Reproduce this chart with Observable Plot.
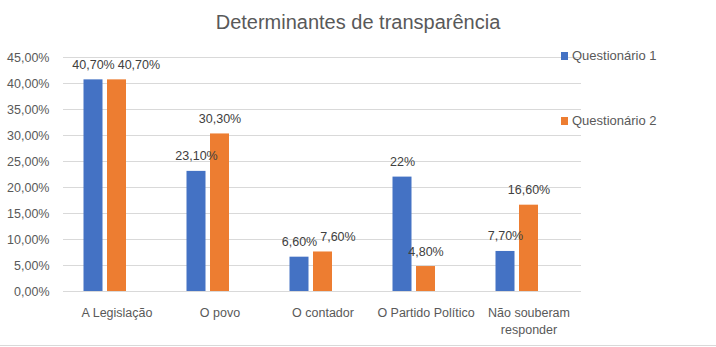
<!DOCTYPE html>
<html>
<head>
<meta charset="utf-8">
<script src="https://cdn.jsdelivr.net/npm/d3@7"></script>
<script src="https://cdn.jsdelivr.net/npm/@observablehq/plot@0.6"></script>
<style>
  html, body { margin: 0; padding: 0; background: #fff; }
  #wrap { position: relative; width: 716px; height: 347px; overflow: hidden; font-family: "Liberation Sans", Arial, sans-serif; color: #595959; }
  #wrap svg { position: absolute; left: 0; top: 0; }
  #title { position: absolute; left: 0; width: 716px; top: 9px; text-align: center; font-size: 20px; line-height: 26px; color: #595959; }
  .leg { position: absolute; left: 561px; font-size: 13px; line-height: 16px; color: #595959; white-space: nowrap; }
  .leg span.sw { display: inline-block; width: 7px; height: 8px; margin-right: 4px; vertical-align: 0px; }
  #bottomline { position: absolute; left: 0; top: 345px; width: 716px; height: 1px; background: #d9d9d9; }
</style>
</head>
<body>
<div id="wrap">
  <div id="title"></div>
  <div id="bottomline"></div>
</div>
<script>
const title = "Determinantes de transparência";
const categories = ["A Legislação", "O povo", "O contador", "O Partido Político", "Não souberam responder"];
const categoryLabels = ["A Legislação", "O povo", "O contador", "O Partido Político", "Não souberam\nresponder"];
const seriesNames = ["Questionário 1", "Questionário 2"];
const seriesColors = ["#4472C4", "#ED7D31"];
const q1 = [40.7, 23.1, 6.6, 22, 7.7];
const q2 = [40.7, 30.3, 7.6, 4.8, 16.6];
const q1Labels = ["40,70%", "23,10%", "6,60%", "22%", "7,70%"];
const q2Labels = ["40,70%", "30,30%", "7,60%", "4,80%", "16,60%"];
const yTicks = [0, 5, 10, 15, 20, 25, 30, 35, 40, 45];

const rows1 = categories.map((c, i) => ({cat: c, value: q1[i], label: q1Labels[i]}));
const rows2 = categories.map((c, i) => ({cat: c, value: q2[i], label: q2Labels[i]}));
const labelOf = new Map(categories.map((c, i) => [c, categoryLabels[i]]));

const font = "Liberation Sans, Arial, sans-serif";
const chart = Plot.plot({
  width: 716,
  height: 347,
  marginLeft: 63,
  marginRight: 135,
  marginTop: 57,
  marginBottom: 56,
  style: {fontFamily: font, fontSize: "12.5px", color: "#595959", background: "transparent"},
  x: {domain: categories, paddingInner: 0.817, paddingOuter: 0.4085, label: null},
  y: {domain: [0, 45], label: null},
  marks: [
    Plot.ruleY(yTicks, {stroke: "#d9d9d9", strokeWidth: 1}),
    Plot.axisY({ticks: yTicks, tickSize: 0, tickPadding: 14, label: null,
      tickFormat: d => d.toFixed(2).replace(".", ",") + "%", fill: "#595959", fontSize: 12.5}),
    Plot.axisX({tickSize: 0, tickPadding: 13, label: null, lineHeight: 1.38, lineAnchor: "top",
      tickFormat: d => labelOf.get(d), fill: "#595959", fontSize: 12.5}),
    Plot.barY(rows1, {x: "cat", y: "value", fill: seriesColors[0], dx: -23.5}),
    Plot.barY(rows2, {x: "cat", y: "value", fill: seriesColors[1], dx: 0}),
    Plot.text(rows1, {x: "cat", y: "value", text: "label", dx: -23.5, dy: -15, fill: "#404040", fontSize: 12.5, textAnchor: "middle", lineAnchor: "middle"}),
    Plot.text(rows2, {x: "cat", y: "value", text: "label", dx: 0, dy: -15, fill: "#404040", fontSize: 12.5, textAnchor: "middle", lineAnchor: "middle"})
  ]
});

const wrap = document.getElementById("wrap");
wrap.insertBefore(chart, wrap.firstChild);
document.getElementById("title").textContent = title;

// Excel-like label collision avoidance: nudge the second series' label right when it collides
const groups = chart.querySelectorAll('g[aria-label="text"]');
if (groups.length >= 2) {
  const t1 = groups[0].querySelectorAll("text");
  const t2 = groups[1].querySelectorAll("text");
  t1.forEach((a, i) => {
    const b = t2[i];
    if (!b) return;
    const ra = a.getBoundingClientRect(), rb = b.getBoundingClientRect();
    const vOverlap = ra.top < rb.bottom - 2 && rb.top < ra.bottom - 2;
    const hOverlap = rb.left < ra.right;
    if (vOverlap && hOverlap) {
      const shift = ra.right + 3 - rb.left;
      const prev = b.getAttribute("transform") || "";
      b.setAttribute("transform", `translate(${shift},0) ` + prev);
    }
  });
}

const legTops = [48, 113];
seriesNames.forEach((name, i) => {
  const d = document.createElement("div");
  d.className = "leg";
  d.style.top = legTops[i] + "px";
  const sw = document.createElement("span");
  sw.className = "sw";
  sw.style.background = seriesColors[i];
  d.appendChild(sw);
  d.appendChild(document.createTextNode(name));
  wrap.appendChild(d);
});
</script>
</body>
</html>
